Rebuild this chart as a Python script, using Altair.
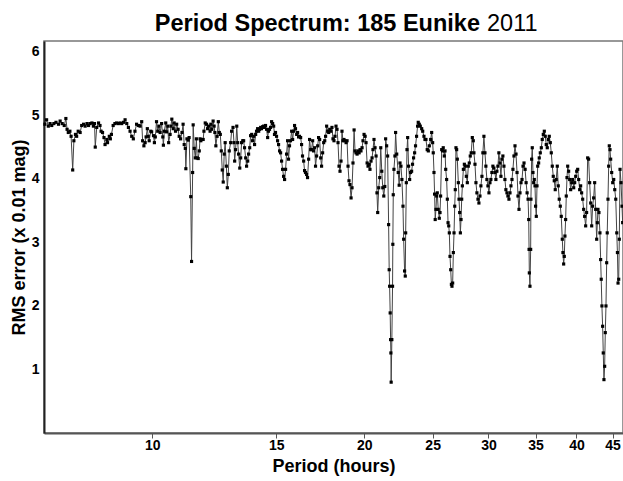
import altair as alt
import pandas as pd

# Period (hours) of each trial solution and its RMS error (x 0.01 mag)
period = [
    7.04, 7.08, 7.12, 7.16, 7.20, 7.25, 7.30, 7.36, 7.40, 7.45, 7.50, 7.54, 7.57, 7.60, 7.64,
    7.67, 7.71, 7.74, 7.78, 7.81, 7.85, 7.90, 7.94, 7.99, 8.03, 8.08, 8.12, 8.16, 8.21, 8.25,
    8.28, 8.30, 8.34, 8.39, 8.43, 8.46, 8.50, 8.54, 8.57, 8.62, 8.64, 8.69, 8.72, 8.75, 8.80,
    8.85, 8.90, 8.95, 9.00, 9.05, 9.10, 9.15, 9.20, 9.25, 9.30, 9.35, 9.40, 9.45, 9.50, 9.56,
    9.61, 9.66, 9.69, 9.73, 9.77, 9.80, 9.84, 9.87, 9.90, 9.95, 9.98, 10.04, 10.07, 10.10, 10.14,
    10.18, 10.22, 10.26, 10.31, 10.35, 10.37, 10.40, 10.45, 10.48, 10.52, 10.55, 10.60, 10.63, 10.66, 10.71,
    10.74, 10.79, 10.83, 10.88, 10.92, 10.97, 11.02, 11.06, 11.10, 11.14, 11.16, 11.20, 11.25, 11.28, 11.34,
    11.37, 11.41, 11.43, 11.47, 11.51, 11.55, 11.58, 11.62, 11.66, 11.69, 11.72, 11.76, 11.81, 11.84, 11.89,
    11.94, 11.98, 12.02, 12.08, 12.11, 12.15, 12.20, 12.24, 12.27, 12.31, 12.36, 12.41, 12.45, 12.49, 12.53,
    12.57, 12.61, 12.65, 12.69, 12.74, 12.78, 12.82, 12.86, 12.92, 12.96,
    13.02, 13.06, 13.09, 13.13, 13.18, 13.22, 13.26, 13.31, 13.35, 13.39, 13.44, 13.48, 13.52, 13.57, 13.61,
    13.66, 13.70, 13.75, 13.79, 13.84, 13.88, 13.93, 13.97, 14.02, 14.06, 14.11, 14.16, 14.20, 14.25, 14.29,
    14.34, 14.39, 14.43, 14.48, 14.53, 14.58, 14.62, 14.67, 14.72, 14.77, 14.82, 14.87, 14.91, 14.96, 15.01,
    15.06, 15.11, 15.16, 15.21, 15.26, 15.31, 15.36, 15.41, 15.46, 15.51, 15.56, 15.61, 15.66, 15.71, 15.77,
    15.82, 15.87, 15.92, 15.97, 16.03, 16.08, 16.13, 16.18, 16.24, 16.29, 16.34, 16.40, 16.45, 16.50, 16.56,
    16.61, 16.67, 16.72, 16.78, 16.83, 16.89, 16.94, 17.00, 17.05, 17.11, 17.17, 17.22, 17.28, 17.34, 17.39,
    17.45, 17.51, 17.57, 17.62, 17.68, 17.74, 17.80, 17.86,
    17.93, 17.99, 18.05, 18.11, 18.17, 18.23, 18.29, 18.35, 18.41, 18.47, 18.53, 18.59, 18.65, 18.71, 18.77,
    18.84, 18.90, 18.96, 19.02, 19.08, 19.15, 19.21, 19.27, 19.34, 19.40, 19.46, 19.53, 19.59, 19.66, 19.72,
    19.78, 19.85, 19.91, 19.98, 20.05, 20.11, 20.18, 20.24, 20.31, 20.37, 20.44, 20.51, 20.57, 20.64, 20.71,
    20.78, 20.84, 20.89, 20.96, 21.03, 21.10, 21.17, 21.24, 21.31, 21.38, 21.44, 21.51, 21.58, 21.65, 21.69,
    21.72, 21.76, 21.79, 21.81, 21.83, 21.88, 21.93, 21.95, 21.98, 22.03, 22.10, 22.15, 22.23, 22.34, 22.41,
    22.47, 22.54, 22.61, 22.69, 22.74, 22.81, 22.86, 22.89, 22.94, 22.99, 23.04, 23.11, 23.19, 23.26, 23.34,
    23.41, 23.49, 23.57, 23.64, 23.72, 23.80, 23.85, 23.93, 24.01,
    24.12, 24.20, 24.30, 24.38, 24.46, 24.56, 24.65, 24.73, 24.84, 24.92, 25.00, 25.05, 25.11, 25.16, 25.21,
    25.27, 25.33, 25.38, 25.46, 25.55, 25.61, 25.66, 25.75, 25.83, 25.88, 25.97, 26.03, 26.09, 26.17, 26.23,
    26.29, 26.35, 26.40, 26.46, 26.52, 26.58, 26.63, 26.69, 26.75, 26.81, 26.87, 26.92, 26.98, 27.04, 27.10,
    27.19, 27.25, 27.31, 27.37, 27.43, 27.49, 27.55, 27.64, 27.73, 27.82, 27.91, 28.00, 28.09, 28.18, 28.27,
    28.36, 28.46, 28.55, 28.61, 28.71, 28.80, 28.89, 28.99, 29.08, 29.18, 29.27, 29.37, 29.46, 29.56, 29.66,
    29.75, 29.85, 29.95, 30.05, 30.15, 30.24, 30.34, 30.44, 30.54, 30.64, 30.74, 30.84, 30.94, 31.04, 31.15,
    31.25, 31.35, 31.45, 31.56, 31.66, 31.76, 31.87, 31.97, 32.08, 32.19, 32.29, 32.40, 32.50, 32.61, 32.72,
    32.83, 32.94, 33.04, 33.15, 33.26, 33.37, 33.48, 33.59, 33.70, 33.82, 33.93, 34.04, 34.15, 34.22, 34.26,
    34.29, 34.36, 34.44, 34.47, 34.55, 34.62, 34.70, 34.78, 34.85, 34.93, 35.00, 35.08, 35.16, 35.24, 35.35,
    35.42, 35.54, 35.66, 35.77, 35.89, 36.01, 36.12, 36.24, 36.36, 36.48, 36.60, 36.72, 36.84, 36.96, 37.08,
    37.20, 37.32, 37.44, 37.57, 37.69, 37.81, 37.94, 38.06, 38.19, 38.27, 38.36, 38.44, 38.52, 38.61, 38.69,
    38.78, 38.87, 38.99, 39.12, 39.25, 39.38, 39.51, 39.64, 39.77, 39.90, 40.03, 40.16, 40.29, 40.42, 40.55,
    40.68, 40.82, 40.95, 41.08, 41.22, 41.35, 41.49, 41.62, 41.76, 41.90, 42.04, 42.17, 42.31, 42.45, 42.59,
    42.73, 42.82, 42.91, 43.05, 43.19, 43.29, 43.37, 43.47, 43.57, 43.66, 43.76, 43.86, 43.95, 44.05, 44.15,
    44.23, 44.34, 44.44, 44.53, 44.63, 44.73, 44.88, 45.03, 45.18, 45.33, 45.48, 45.63, 45.73, 45.82, 45.92,
    46.01, 46.12, 46.27, 46.42, 46.52,
]

rms = [
    4.86, 4.93, 4.83, 4.87, 4.84, 4.87, 4.89, 4.86, 4.91, 4.87, 4.84, 4.95, 4.78, 4.73, 4.75,
    4.67, 4.14, 4.60, 4.70, 4.67, 4.75, 4.73, 4.84, 4.86, 4.83, 4.87, 4.84, 4.87, 4.88, 4.83,
    4.87, 4.50, 4.81, 4.88, 4.84, 4.75, 4.73, 4.65, 4.54, 4.62, 4.57, 4.67, 4.63, 4.70, 4.84,
    4.87, 4.88, 4.87, 4.88, 4.87, 4.89, 4.93, 4.87, 4.81, 4.75, 4.67, 4.63, 4.75, 4.86, 4.84,
    4.83, 4.90, 4.60, 4.52, 4.57, 4.66, 4.79, 4.67, 4.60, 4.75, 4.74, 4.68, 4.57, 4.66, 4.90,
    4.75, 4.83, 4.73, 4.87, 4.66, 4.53, 4.75, 4.88, 4.74, 4.83, 4.57, 4.70, 4.83, 4.94, 4.79,
    4.88, 4.75, 4.86, 4.78, 4.67, 4.63, 4.73, 4.86, 4.54, 4.48, 4.16, 4.63, 4.61, 4.65, 3.72,
    2.70, 4.10, 4.85, 4.48, 4.33, 4.63, 4.33, 4.32, 4.44, 4.63, 4.60, 4.62, 4.62, 4.75, 4.88,
    4.86, 4.79, 4.83, 4.75, 4.86, 4.78, 4.91, 4.83, 4.73, 4.52, 4.67, 4.90, 4.73, 4.70, 4.44,
    4.14, 3.95, 4.39, 4.57, 4.20, 3.86, 4.07, 4.44, 4.57, 4.75,
    4.81, 4.57, 4.28, 4.46, 4.83, 4.57, 4.39, 4.17, 4.33, 4.57, 4.60, 4.60, 4.49, 4.33, 4.20,
    4.28, 4.39, 4.49, 4.68, 4.70, 4.60, 4.67, 4.54, 4.70, 4.75, 4.79, 4.75, 4.78, 4.81, 4.79,
    4.82, 4.83, 4.81, 4.84, 4.78, 4.65, 4.75, 4.78, 4.81, 4.90, 4.87, 4.83, 4.70, 4.73, 4.67,
    4.60, 4.54, 4.44, 4.41, 4.28, 4.15, 4.04, 3.99, 4.15, 4.39, 4.60, 4.31, 4.52, 4.60, 4.75,
    4.62, 4.75, 4.84, 4.79, 4.70, 4.73, 4.66, 4.67, 4.65, 4.54, 4.36, 4.28, 4.13, 4.10, 4.07,
    4.02, 4.31, 4.62, 4.46, 4.46, 4.60, 4.44, 4.49, 4.20, 4.36, 4.52, 4.65, 4.62, 4.33, 4.20,
    4.41, 4.57, 4.60, 4.67, 4.83, 4.75, 4.73, 4.78,
    4.75, 4.81, 4.63, 4.60, 4.67, 4.83, 4.78, 4.57, 4.20, 4.12, 4.28, 4.75, 4.60, 4.62, 4.60,
    4.57, 4.60, 4.20, 3.97, 3.91, 3.70, 3.86, 4.25, 4.77, 4.44, 4.41, 4.39, 4.44, 4.41, 4.46,
    4.44, 4.49, 4.60, 4.70, 4.67, 4.57, 4.25, 4.20, 4.23, 4.15, 4.28, 4.33, 4.46, 4.62, 4.49,
    4.36, 3.78, 3.47, 3.86, 4.02, 4.49, 4.12, 3.86, 3.73, 3.88, 4.63, 4.52, 4.36, 3.28, 2.57,
    2.31, 1.89, 1.47, 1.26, 0.80, 1.47, 2.31, 2.97, 3.75, 4.15, 4.36, 4.73, 4.39, 4.10, 3.90,
    4.25, 4.20, 3.99, 3.57, 3.05, 2.55, 2.47, 3.15, 3.94, 4.46, 4.65, 4.20, 3.99, 4.10, 4.12,
    4.23, 4.33, 4.41, 4.52, 4.67, 4.83, 4.89, 4.86, 4.83,
    4.79, 4.75, 4.67, 4.62, 4.62, 4.46, 4.44, 4.52, 4.62, 4.73, 4.57, 4.41, 4.10, 3.76, 3.36,
    3.52, 3.73, 3.78, 3.52, 3.38, 3.47, 3.73, 4.46, 4.44, 4.49, 4.36, 4.44, 4.15, 3.99, 3.68,
    3.31, 3.26, 3.15, 2.78, 2.57, 2.34, 2.31, 2.36, 2.84, 3.15, 3.57, 3.83, 4.49, 4.46, 4.31,
    3.94, 3.68, 3.47, 3.15, 3.36, 3.68, 3.89, 4.15, 4.23, 4.20, 4.04, 3.94, 4.20, 4.25, 4.36,
    4.41, 4.65, 4.60, 4.41, 4.23, 3.94, 3.78, 3.68, 3.62, 3.73, 3.89, 4.04, 4.41, 4.67, 4.41,
    4.20, 3.99, 3.89, 3.78, 3.94, 3.99, 4.10, 4.20, 4.17, 4.10, 3.99, 4.12, 4.20, 4.41, 4.25,
    4.04, 4.31, 4.36, 4.20, 3.99, 3.83, 3.78, 3.73, 3.68, 3.78, 3.89, 3.99, 4.15, 4.36, 4.52,
    4.39, 4.10, 3.73, 3.52, 3.78, 3.94, 3.99, 4.20, 4.25, 4.15, 3.94, 3.78, 3.68, 3.36, 2.89,
    2.52, 2.31, 2.89, 3.68, 4.31, 4.49, 4.10, 3.94, 3.99, 3.89, 3.57, 3.41, 3.89, 4.20, 4.25,
    4.33, 4.41, 4.49, 4.62, 4.70, 4.75, 4.67, 4.54, 4.49, 4.62, 4.67, 4.57, 4.41, 4.20, 4.04,
    3.97, 3.83, 3.99, 4.20, 3.89, 3.68, 3.57, 3.41, 3.05, 2.84, 2.66, 2.78, 3.10, 3.36, 3.73,
    4.02, 4.20, 4.12, 3.99, 3.83, 3.94, 3.99, 3.86, 3.94, 4.04, 4.12, 4.15, 3.99, 3.83, 3.89,
    3.78, 3.68, 3.52, 3.41, 3.26, 3.47, 4.33, 4.31, 3.94, 3.62, 3.26, 3.57, 3.70, 3.94, 3.52,
    3.05, 3.31, 3.52, 3.47, 3.15, 2.73, 2.42, 2.00, 1.68, 1.26, 0.84, 1.05, 1.58, 2.00, 2.68,
    3.15, 3.68, 4.20, 4.52, 4.46, 4.31, 4.10, 3.94, 3.99, 3.83, 3.68, 3.15, 2.84, 2.36, 2.42,
    3.05, 4.15, 3.94, 3.57, 3.31,
]

title_bold = "Period Spectrum: 185 Eunike"
title_year = "2011"
x_title = "Period (hours)"
y_title = "RMS error (x 0.01 mag)"
x_tick_values = [10, 15, 20, 25, 30, 35, 40, 45]
y_tick_values = [1, 2, 3, 4, 5, 6]
x_domain = [7.02, 46.57]
y_domain = [0, 6.17]

FONT = "Liberation Sans"
W, H = 579, 392

df = pd.DataFrame({"period": period, "rms": rms})

x_enc = alt.X(
    "period:Q",
    scale=alt.Scale(type="log", domain=x_domain, nice=False, zero=False),
    axis=alt.Axis(
        values=x_tick_values, format="d", title=x_title, grid=False,
        labelFont=FONT, labelFontSize=14, labelFontWeight="bold", labelColor="black",
        labelPadding=0, labelOverlap=False, labelFlush=False,
        tickSize=5, tickColor="#555", tickWidth=1,
        domainColor="#555", domainWidth=2,
        titleFont=FONT, titleFontSize=18, titleFontWeight="bold", titleColor="black",
        titleX=W / 2, titleY=33, titleBaseline="middle", titleAlign="center",
    ),
)
y_enc = alt.Y(
    "rms:Q",
    scale=alt.Scale(domain=y_domain, nice=False),
    axis=alt.Axis(
        values=y_tick_values, format="d", title=y_title, grid=False, ticks=False,
        labelFont=FONT, labelFontSize=14, labelFontWeight="bold", labelColor="black",
        labelPadding=5,
        domainColor="#222", domainWidth=2,
        titleFont=FONT, titleFontSize=18, titleFontWeight="bold", titleColor="black",
        titleX=-24.5, titleY=H / 2, titleAngle=270, titleBaseline="middle", titleAlign="center",
    ),
)

base = alt.Chart(df)
line = base.mark_line(color="#444", strokeWidth=1).encode(x=x_enc, y=y_enc)
pts = base.mark_point(shape="square", filled=True, size=10, color="black", opacity=1).encode(
    x=x_enc, y=y_enc
)

t1 = alt.Chart(pd.DataFrame({"t": [title_bold]})).mark_text(
    font=FONT, fontSize=23.5, fontWeight="bold", align="right", baseline="alphabetic", color="black"
).encode(x=alt.value(436), y=alt.value(-10), text="t:N")
t2 = alt.Chart(pd.DataFrame({"t": [title_year]})).mark_text(
    font=FONT, fontSize=23.5, fontWeight="normal", align="left", baseline="alphabetic", color="black"
).encode(x=alt.value(443), y=alt.value(-10), text="t:N")

chart = (
    alt.layer(line, pts, t1, t2)
    .properties(
        width=W, height=H,
        autosize=alt.AutoSizeParams(type="none"),
        padding={"left": 44, "top": 41, "right": 0, "bottom": 48},
        background="white",
    )
    .configure_view(stroke="#777", strokeWidth=1.5)
)

chart.save("out.html", embed_options={"renderer": "svg", "actions": False})
